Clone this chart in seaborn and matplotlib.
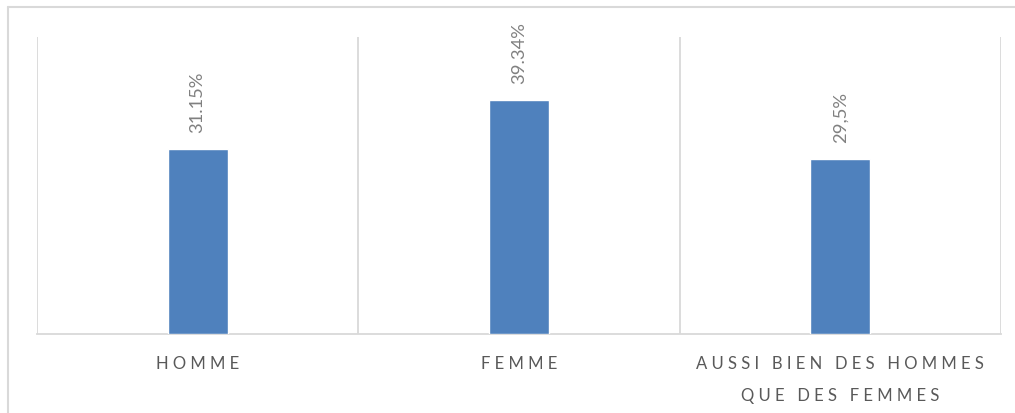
import matplotlib
matplotlib.use("Agg")
import matplotlib.pyplot as plt
import seaborn as sns
import pandas as pd
from matplotlib.lines import Line2D

categories = ["HOMME", "FEMME", "AUSSI BIEN DES HOMMES\nQUE DES FEMMES"]
values = [31.15, 39.34, 29.5]
value_labels = ["31.15%", "39.34%", "29,5%"]

BAR = "#4F81BD"
GRID = "#D9D9D9"
TEXT = "#595959"
FONT = "Lato"

sns.set_theme(style="white")
plt.rcParams["font.family"] = [FONT, "DejaVu Sans"]


def spaced(label):
    # widen letter spacing for the category captions
    lines = []
    for line in label.split("\n"):
        words = [" ".join(w) for w in line.split(" ")]
        lines.append("   ".join(words))
    return "\n".join(lines)


df = pd.DataFrame({"cat": categories, "val": values})

fig = plt.figure(figsize=(10.15, 4.14), dpi=100)
ax = fig.add_axes([37 / 1015, 79 / 414, 964 / 1015, 297 / 414])

sns.barplot(data=df, x="cat", y="val", color=BAR, width=0.187,
            saturation=1, ax=ax, zorder=3)

ax.set_xlim(-0.5, 2.5)
ax.set_ylim(0, 50)
ax.set_xlabel("")
ax.set_ylabel("")
ax.set_yticks([])
ax.set_xticks(range(len(categories)))
ax.set_xticklabels([spaced(c) for c in categories], color=TEXT,
                   fontsize=12, linespacing=2.25)
ax.tick_params(axis="x", length=0, pad=15)

for s in ["top", "right", "left"]:
    ax.spines[s].set_visible(False)
ax.spines["bottom"].set_color(GRID)
ax.spines["bottom"].set_linewidth(1.3)

for xb in [-0.5, 0.5, 1.5, 2.5]:
    ax.axvline(xb, color=GRID, linewidth=1.3, zorder=1)

for i, (v, lab) in enumerate(zip(values, value_labels)):
    ax.annotate(lab, xy=(i, v), xytext=(0, 17), textcoords="offset pixels",
                rotation=90, ha="center", va="bottom", color="#808080",
                fontsize=13.2)

# chart area frame (left and top edges)
fig.add_artist(Line2D([8 / 1015, 8 / 1015], [0, 406 / 414],
                      transform=fig.transFigure, color=GRID, linewidth=1.5))
fig.add_artist(Line2D([8 / 1015, 1], [406 / 414, 406 / 414],
                      transform=fig.transFigure, color=GRID, linewidth=1.5))

fig.savefig("out.png", dpi=100)
